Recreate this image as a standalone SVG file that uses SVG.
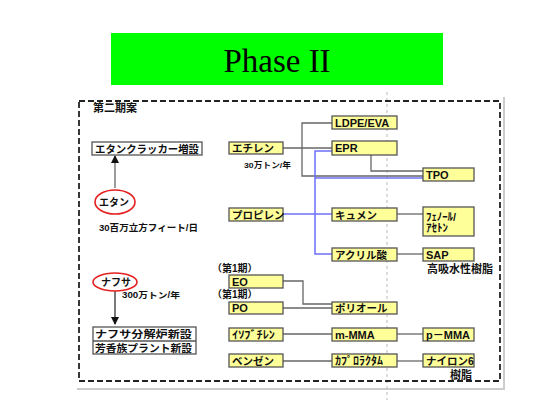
<svg xmlns="http://www.w3.org/2000/svg" width="554" height="415" viewBox="0 0 554 415">
<style>
.t{font-family:"Liberation Sans","Noto Sans CJK JP",sans-serif;font-weight:700;fill:#111;}
.box{fill:#FFFF99;stroke:#555;stroke-width:1.3;}
.wbox{fill:#fff;stroke:#555;stroke-width:1.3;}
.g{stroke:#666;stroke-width:1.3;fill:none;}
.b{stroke:#6f6fff;stroke-width:1.5;fill:none;}
</style>
<defs>
<marker id="ah" markerWidth="8" markerHeight="8" refX="7" refY="4" orient="auto" markerUnits="userSpaceOnUse">
<path d="M0,0 L8,4 L0,8 Z" fill="#111"/>
</marker>
</defs>
<rect width="554" height="415" fill="#fff"/>
<g id="title">
<rect x="111" y="33" width="332" height="52" fill="#00FF00"/>
<text x="277" y="72" text-anchor="middle" font-family="Liberation Serif,serif" font-size="33" fill="#000">Phase II</text>
</g>
<g id="frame">
<line x1="504" y1="97" x2="504" y2="390" stroke="#ccc" stroke-width="2"/>
<line x1="77" y1="389" x2="504" y2="389" stroke="#ccc" stroke-width="2"/>
<line x1="387" y1="92" x2="387" y2="400" stroke="#bbb" stroke-width="1" stroke-dasharray="3,3"/>
<rect x="79" y="101" width="421" height="280" fill="none" stroke="#222" stroke-width="1.8" stroke-dasharray="6,3"/>
<text class="t" x="93" y="112" font-size="11">第二期案</text>
</g>
<g id="connectors">
<line class="g" x1="115" y1="188" x2="115" y2="156" marker-end="url(#ah)"/>
<line class="g" x1="115" y1="291" x2="115" y2="324" marker-end="url(#ah)" style="stroke:#333"/>
<polyline class="g" points="332,123 302,123 302,176 423,176"/>
<line class="g" x1="283" y1="148" x2="332" y2="148"/>
<polyline class="g" points="371,155 371,171 423,171"/>
<polyline class="b" points="332,151 315,151 315,254 332,254"/>
<line class="b" x1="315" y1="178" x2="423" y2="178"/>
<line class="b" x1="283" y1="214" x2="332" y2="214"/>
<line class="g" x1="397" y1="214" x2="423" y2="214"/>
<line class="g" x1="397" y1="254" x2="423" y2="254"/>
<polyline class="g" points="283,281 303,281 303,304 332,304"/>
<line class="g" x1="283" y1="308" x2="332" y2="308"/>
<line class="g" x1="283" y1="334" x2="332" y2="334"/>
<line class="g" x1="397" y1="334" x2="423" y2="334"/>
<line class="g" x1="283" y1="361" x2="332" y2="361"/>
<line class="g" x1="397" y1="361" x2="423" y2="361"/>
</g>
<g id="n-cracker">
<rect class="wbox" x="92" y="142" width="110" height="13"/>
<text class="t" x="95" y="152.5" font-size="10.5" textLength="104" lengthAdjust="spacingAndGlyphs">エタンクラッカー増設</text>
</g>
<g id="n-ethane">
<ellipse cx="115" cy="202" rx="20" ry="12" fill="#fff" stroke="#e52020" stroke-width="1.6"/>
<text class="t" x="114" y="206" font-size="10" text-anchor="middle">エタン</text>
<text class="t" x="99" y="231" font-size="9.5" textLength="99" lengthAdjust="spacingAndGlyphs">30百万立方フィート/日</text>
</g>
<g id="n-naphtha">
<ellipse cx="115" cy="282" rx="22" ry="9" fill="#fff" stroke="#e52020" stroke-width="1.6"/>
<text class="t" x="116" y="286" font-size="10" text-anchor="middle">ナフサ</text>
<text class="t" x="122" y="298" font-size="8.5" textLength="58" lengthAdjust="spacingAndGlyphs">300万トン/年</text>
</g>
<g id="n-newplant">
<rect class="wbox" x="93" y="327" width="103" height="27"/>
<line x1="93" y1="341" x2="196" y2="341" stroke="#555" stroke-width="1.3"/>
<text class="t" x="95" y="338" font-size="10.5" textLength="97" lengthAdjust="spacingAndGlyphs">ナフサ分解炉新設</text>
<text class="t" x="95" y="351.5" font-size="10.5" textLength="97" lengthAdjust="spacingAndGlyphs">芳香族プラント新設</text>
</g>
<g id="n-ethylene">
<rect class="box" x="229" y="142" width="54" height="12"/>
<text class="t" x="232" y="152" font-size="10.5">エチレン</text>
<text class="t" x="244" y="168" font-size="8" textLength="47" lengthAdjust="spacingAndGlyphs">30万トン/年</text>
</g>
<g id="n-propylene">
<rect class="box" x="229" y="208" width="54" height="13"/>
<text class="t" x="232" y="218.5" font-size="10.5">プロピレン</text>
</g>
<g id="n-eo">
<text class="t" x="212" y="272" font-size="10">（第1期）</text>
<rect class="box" x="229" y="275" width="54" height="13"/>
<text class="t" x="232" y="285.5" font-size="11">EO</text>
</g>
<g id="n-po">
<text class="t" x="212" y="298" font-size="10">（第1期）</text>
<rect class="box" x="229" y="302" width="54" height="12"/>
<text class="t" x="232" y="312" font-size="11">PO</text>
</g>
<g id="n-isobutylene">
<rect class="box" x="229" y="328" width="54" height="13"/>
<text class="t" x="232" y="338.5" font-size="11" textLength="43" lengthAdjust="spacingAndGlyphs">ｲｿﾌﾞﾁﾚﾝ</text>
</g>
<g id="n-benzene">
<rect class="box" x="229" y="354" width="54" height="13"/>
<text class="t" x="232" y="364.5" font-size="10.5">ベンゼン</text>
</g>
<g id="n-ldpe">
<rect class="box" x="332" y="116" width="65" height="13"/>
<text class="t" x="335" y="126.5" font-size="11">LDPE/EVA</text>
</g>
<g id="n-epr">
<rect class="box" x="332" y="141" width="65" height="14"/>
<text class="t" x="335" y="152" font-size="11">EPR</text>
</g>
<g id="n-tpo">
<rect class="box" x="423" y="168" width="51" height="13"/>
<text class="t" x="426" y="178.5" font-size="11">TPO</text>
</g>
<g id="n-cumene">
<rect class="box" x="332" y="208" width="65" height="13"/>
<text class="t" x="335" y="218.5" font-size="10.5">キュメン</text>
</g>
<g id="n-phenol">
<rect class="box" x="423" y="207" width="51" height="29"/>
<text class="t" x="426" y="220.5" font-size="11" textLength="30" lengthAdjust="spacingAndGlyphs">ﾌｪﾉｰﾙ/</text>
<text class="t" x="426" y="232" font-size="11" textLength="22" lengthAdjust="spacingAndGlyphs">ｱｾﾄﾝ</text>
</g>
<g id="n-acrylic">
<rect class="box" x="332" y="248" width="65" height="13"/>
<text class="t" x="335" y="258.5" font-size="10.5">アクリル酸</text>
</g>
<g id="n-sap">
<rect class="box" x="423" y="248" width="51" height="13"/>
<text class="t" x="426" y="258.5" font-size="11">SAP</text>
<text class="t" x="427" y="273" font-size="11">高吸水性樹脂</text>
</g>
<g id="n-polyol">
<rect class="box" x="332" y="302" width="65" height="12"/>
<text class="t" x="335" y="312" font-size="10.5">ポリオール</text>
</g>
<g id="n-mmma">
<rect class="box" x="332" y="328" width="65" height="13"/>
<text class="t" x="335" y="338.5" font-size="11">m-MMA</text>
</g>
<g id="n-pmma">
<rect class="box" x="423" y="328" width="51" height="13"/>
<text class="t" x="426" y="338.5" font-size="11">p－MMA</text>
</g>
<g id="n-caprolactam">
<rect class="box" x="332" y="354" width="65" height="13"/>
<text class="t" x="335" y="364.5" font-size="11" textLength="48" lengthAdjust="spacingAndGlyphs">ｶﾌﾟﾛﾗｸﾀﾑ</text>
</g>
<g id="n-nylon">
<rect class="box" x="423" y="354" width="51" height="13"/>
<text class="t" x="426" y="364.5" font-size="10.5">ナイロン6</text>
<text class="t" x="450" y="379" font-size="11">樹脂</text>
</g>
</svg>
